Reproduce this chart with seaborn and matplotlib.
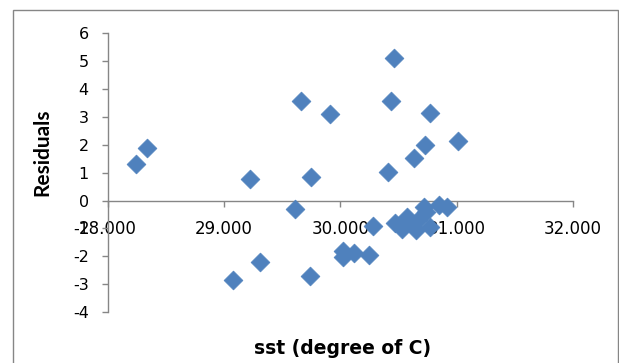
import matplotlib
matplotlib.use("Agg")
import matplotlib.pyplot as plt
import seaborn as sns
import pandas as pd
from matplotlib.patches import Rectangle

sst = [28.24, 28.34, 29.08, 29.22, 29.31, 29.61, 29.66, 29.74, 29.75, 29.91,
       30.02, 30.02, 30.12, 30.25, 30.28, 30.41, 30.44, 30.46, 30.47, 30.53,
       30.57, 30.60, 30.63, 30.65, 30.67, 30.72, 30.73, 30.74, 30.77, 30.77,
       30.85, 30.92, 31.01]
residuals = [1.30, 1.87, -2.84, 0.79, -2.20, -0.30, 3.58, -2.72, 0.86, 3.12,
             -1.80, -2.03, -1.87, -1.96, -0.92, 1.03, 3.58, 5.11, -0.79, -1.01,
             -0.59, -0.77, 1.53, -1.04, -0.71, -0.23, 2.01, -0.41, 3.13, -0.95,
             -0.17, -0.25, 2.12]
x_ticks = [28, 29, 30, 31, 32]
x_tick_labels = ["28.000", "29.000", "30.000", "31.000", "32.000"]
y_ticks = [-4, -3, -2, -1, 0, 1, 2, 3, 4, 5, 6]

df = pd.DataFrame({"sst": sst, "res": residuals})

sns.set_theme(style="white")
plt.rcParams["font.family"] = ["DejaVu Sans"]
plt.rcParams["axes.unicode_minus"] = False
plt.rcParams["text.color"] = "black"
plt.rcParams["axes.labelcolor"] = "black"

fig = plt.figure(figsize=(6.19, 3.63), dpi=100)
ax = fig.add_axes([108 / 619, 1 - 312 / 363, 464.7 / 619, 278.7 / 363])

sns.scatterplot(data=df, x="sst", y="res", marker="D", s=92, color="#4F81BD",
                edgecolor="#4F81BD", linewidth=0.5, ax=ax, zorder=3, clip_on=False)

ax.set_xlim(28, 32)
ax.set_ylim(-4, 6)
ax.set_xticks(x_ticks)
ax.set_xticklabels(x_tick_labels)
ax.set_yticks(y_ticks)
ax.set_yticklabels([str(v) for v in y_ticks])

gray = "#868686"
for s in ["top", "right"]:
    ax.spines[s].set_visible(False)
ax.spines["bottom"].set_position(("data", 0))
ax.spines["bottom"].set_color(gray)
ax.spines["left"].set_color(gray)
ax.spines["bottom"].set_linewidth(1)
ax.spines["left"].set_linewidth(1)
ax.tick_params(axis="x", direction="out", length=4.3, width=1, color=gray,
               pad=10, labelsize=12, labelcolor="black", bottom=True)
ax.tick_params(axis="y", direction="out", length=4.3, width=1, color=gray,
               pad=9.5, labelsize=11.5, labelcolor="black", left=True)

ax.set_xlabel("sst (degree of C)", fontsize=13.5, fontweight="bold", va="center",
              color="black")
ax.set_ylabel("Residuals", fontsize=15, fontweight="bold", va="center",
              family=["Lato", "DejaVu Sans"], color="black")
ax.xaxis.set_label_coords((343 - 108) / 464.7, (312 - 349) / 278.7)
ax.yaxis.set_label_coords((42 - 108) / 464.7, (312 - 152) / 278.7)

fig.patches.append(Rectangle((13 / 619, -0.05), (617.5 - 13) / 619, 1 - 10 / 363 + 0.05,
                             transform=fig.transFigure, fill=False,
                             edgecolor=gray, linewidth=1))

fig.savefig("out.png", dpi=100)
